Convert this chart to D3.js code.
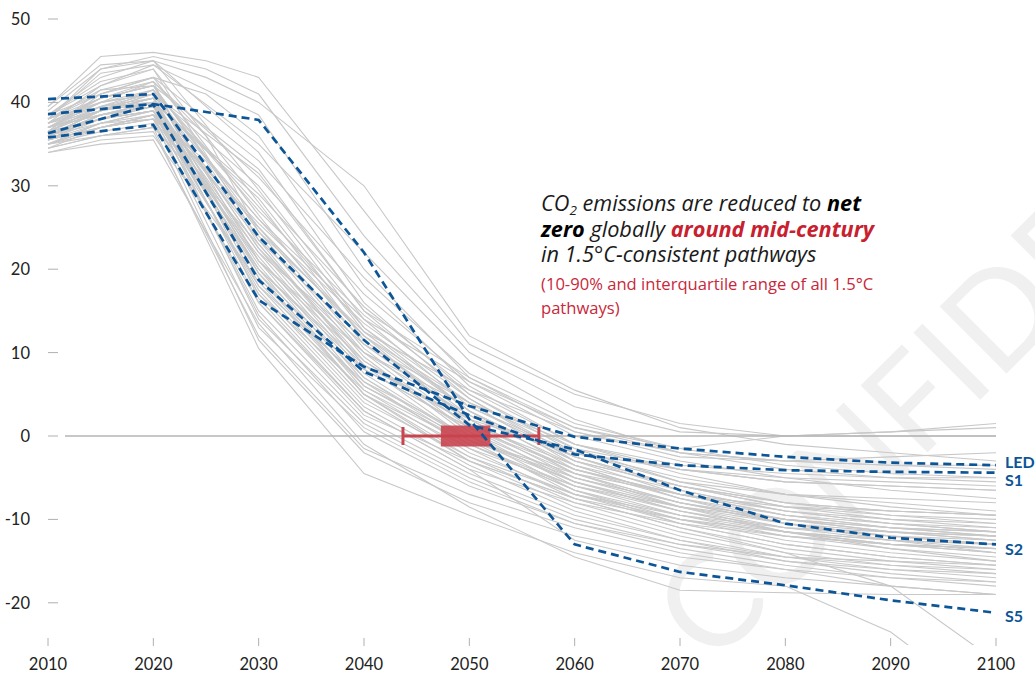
<!DOCTYPE html>
<html>
<head>
<meta charset="utf-8">
<script src="https://cdn.jsdelivr.net/npm/d3@7"></script>
<style>
    html, body { margin: 0; padding: 0; background: #fff; }
    svg { display: block; font-family: Lato, "Open Sans", sans-serif; }
</style>
</head>
<body>
<svg id="chart" width="1035" height="675"></svg>
<script>
/* years of the grey model pathways (null = not reported) */
var gridYears = [2010, 2015, 2020, 2025, 2030, 2040, 2050, 2060, 2070, 2080, 2090, 2100];

var ensemble = [
    [39.5, 45.5, 46.0, 45.0, 43.0, 27.0, 11.0, 5.0, 1.5, 0.0, 0.0, 0.0],
    [38.0, 44.0, 45.5, 44.0, 41.0, 24.0, 10.0, 3.5, 0.5, 0.0, 0.5, 1.5],
    [37.5, 42.0, 44.5, null, 38.5, 20.0, 7.0, 0.5, -2.0, -3.0, -2.5, -2.0],
    [36.5, 41.5, 43.0, 41.0, 36.0, 18.0, 6.0, -1.0, -4.0, -5.5, -6.0, -6.5],
    [38.5, 43.0, 45.0, null, 34.0, 16.0, 5.0, -2.0, -5.0, -7.0, -8.0, -9.0],
    [37.0, 40.5, 42.0, null, 32.0, 15.0, 4.5, -3.0, -6.0, -8.5, -9.5, -10.0],
    [36.0, 39.0, 41.0, null, 30.0, 14.0, 3.5, -2.5, -6.5, -9.0, -10.5, -11.5],
    [35.5, 38.5, 40.0, null, 28.5, 12.5, 3.0, -4.0, -7.0, -9.5, -11.0, -12.0],
    [37.0, 40.0, 41.5, null, 27.5, 13.0, 4.0, -3.5, -7.5, -10.0, -11.5, -12.5],
    [38.0, 41.0, 43.0, null, 26.5, 11.0, 2.0, -4.5, -8.0, -10.5, -12.0, -13.0],
    [36.5, 39.0, 40.5, null, 26.0, 12.0, 1.5, -5.0, -8.5, -11.0, -12.5, -13.5],
    [35.0, 37.5, 39.0, null, 25.0, 10.5, 1.0, -5.5, -9.0, -11.5, -13.0, -14.0],
    [37.5, 40.5, 42.5, 36.0, 24.5, 10.0, 0.5, -6.0, -9.5, -12.0, -13.5, -14.5],
    [36.0, 38.0, 39.5, null, 24.0, 9.5, 0.0, -6.5, -10.0, -12.5, -14.0, -15.0],
    [34.5, 36.0, 37.0, null, 23.0, 9.0, 0.5, -5.0, -8.0, -10.0, -11.0, -11.5],
    [38.5, 42.0, 44.0, null, 23.5, 8.5, -0.5, -7.0, -10.5, -13.0, -14.5, -15.5],
    [36.5, 39.5, 41.0, null, 22.5, 8.0, 1.0, -4.0, -7.0, -9.0, -10.0, -10.5],
    [37.0, 38.5, 40.0, null, 22.0, 7.5, -0.5, -5.5, -8.5, -10.5, -11.5, -12.0],
    [35.5, 37.0, 38.0, null, 21.5, 7.0, -1.0, -6.0, -9.0, -11.0, -12.0, -12.5],
    [38.0, 40.5, 42.0, null, 21.0, 6.5, -1.5, -7.5, -11.0, -13.5, -15.0, -16.0],
    [36.0, 38.5, 40.0, null, 20.5, 6.0, -1.0, -6.5, -9.5, -11.5, -12.5, -13.0],
    [35.0, 37.0, 38.5, null, 20.0, 5.5, -2.0, -7.0, -10.0, -12.0, -13.0, -13.5],
    [37.5, 39.5, 41.5, null, 19.5, 5.0, -2.5, -8.0, -11.5, -14.0, -15.5, -16.5],
    [36.5, 38.0, 39.0, null, 19.0, 6.0, -0.5, -4.5, -7.0, -8.5, -9.0, -9.5],
    [34.0, 35.5, 36.0, null, 18.5, 5.0, -1.5, -6.0, -8.5, -10.0, -11.0, -11.5],
    [37.0, 39.0, 40.5, null, 18.0, 4.5, -3.0, -8.5, -12.0, -14.5, -16.0, -17.0],
    [35.5, 37.5, 39.0, null, 17.5, 4.0, -2.5, -7.0, -9.5, -11.0, -11.5, -12.0],
    [36.0, 38.0, 39.5, null, 17.0, 3.5, -3.5, -9.0, -12.5, -15.0, -16.5, -17.5],
    [38.5, 41.0, 42.5, null, 16.5, 3.0, -4.0, -8.0, -10.5, -12.0, -13.0, -13.5],
    [35.0, 36.5, 37.5, null, 16.0, 2.5, -3.0, -7.5, -10.0, -11.5, -12.5, -13.0],
    [36.5, 38.0, 39.0, null, 15.0, 2.0, -4.5, -9.5, -12.5, -14.5, -15.5, -16.0],
    [37.0, 39.5, 40.0, null, 14.0, 1.5, -5.0, -10.0, -13.0, -15.0, -16.0, -16.5],
    [35.5, 37.0, 38.5, null, 13.0, 1.0, -5.5, -10.5, -13.5, -15.5, -17.0, -18.0],
    [36.0, 37.5, 38.0, null, 11.5, -2.0, -8.0, -12.0, -14.5, -16.0, -17.0, -17.5],
    [35.0, 36.0, 37.0, null, 10.5, -4.5, -9.5, -14.0, -17.0, -18.0, -23.5, -33.0],
    [37.5, 39.0, 40.5, 30.0, 20.0, 8.5, 2.0, -2.0, -4.0, -5.0, -5.5, -6.0],
    [39.0, 44.0, 45.0, 43.0, 40.0, 30.0, 12.0, 5.5, 1.0, -1.0, -2.0, -3.0],
    [38.0, 43.5, 44.5, null, 35.0, 22.0, 9.0, 2.0, -2.0, -4.0, -5.0, -5.5],
    [36.5, 41.0, 43.0, null, 33.0, 19.0, 7.5, 1.5, -1.5, -3.5, -4.5, -5.0],
    [37.0, 40.0, 42.5, null, 31.0, 17.0, 6.5, 0.0, -3.0, -5.0, -6.5, -7.5],
    [35.5, 38.0, 40.0, null, 29.0, 15.5, 5.5, -1.0, -4.5, -7.0, -8.5, -9.5],
    [36.0, 39.0, 41.5, null, 27.0, 14.5, 5.0, -1.5, -5.5, -8.0, -9.5, -10.5],
    [34.5, 37.0, 38.5, null, 25.5, 13.5, 4.5, -2.5, -6.0, -8.0, -9.0, -9.5],
    [37.5, 40.5, 42.0, null, 25.0, 12.0, 3.0, -3.0, -7.0, -9.5, -11.0, -12.0],
    [36.0, 38.5, 39.5, null, 23.5, 11.5, 2.5, -3.5, -7.5, -10.5, -12.5, -14.0],
    [38.0, 40.0, 41.0, null, 22.5, 10.0, 2.5, -2.5, -6.0, -8.0, -9.0, -9.5],
    [35.0, 37.5, 38.5, null, 21.0, 9.0, 1.5, -4.0, -7.5, -9.5, -10.5, -11.0],
    [36.5, 39.0, 40.0, null, 20.0, 8.0, 1.0, -4.5, -8.0, -10.5, -12.0, -13.0],
    [37.0, 38.5, 39.5, null, 19.5, 7.0, -0.5, -5.0, -8.0, -10.0, -11.5, -12.5],
    [35.5, 37.0, 38.0, null, 18.0, 6.5, 0.0, -5.5, -9.0, -11.5, -13.0, -14.0],
    [36.0, 38.5, 39.5, null, 17.0, 5.5, -1.0, -6.5, -10.5, -13.0, -14.5, -15.5],
    [34.5, 36.0, 36.5, null, 12.0, -1.5, -7.0, -11.0, -14.0, -16.0, -18.0, -19.0],
    [36.5, 38.0, 39.0, null, 14.5, 0.5, -6.0, -10.5, -13.0, -14.5, -15.0, -15.5],
    [37.5, 40.0, 41.0, null, 26.0, 14.0, 6.5, 1.0, -1.5, 0.0, 0.5, 1.0],
    [38.0, 41.5, 42.0, null, 24.5, 12.5, 5.5, 0.5, -2.5, -3.0, -3.5, -4.0],
    [36.0, 38.0, 39.0, null, 22.0, 11.0, 4.0, -1.5, -4.0, -5.5, -6.0, -6.5],
    [37.0, 39.0, 40.5, null, 21.0, 10.0, 3.5, -2.0, -5.5, -7.0, -7.5, -8.0],
    [35.0, 37.0, 38.0, 33.0, 23.0, 8.5, 1.5, -3.5, -6.5, -9.0, -10.5, -11.5],
    [39.5, 44.5, 45.0, null, 29.5, 13.0, 3.0, -3.0, -6.0, -8.5, -10.0, -11.0],
    [38.5, 42.5, 44.0, null, 28.0, 11.5, 2.0, -4.5, -8.5, -11.5, -13.5, -15.0],
    [34.0, 35.0, 35.5, null, 13.5, -1.0, -8.5, -14.5, -18.5, -18.8, -19.0, -19.0],
    [36.5, 39.5, 40.5, null, 16.0, 3.0, -4.0, -12.5, -15.5, -17.0, -18.0, -19.0],
    [37.0, 39.0, 40.0, null, 19.0, 5.0, -3.0, -7.5, -11.0, -14.0, -18.0, -27.0],
    [35.5, 38.5, 39.5, null, 25.0, 12.0, 4.0, -1.0, -3.5, -4.5, -5.0, -5.0],
    [36.0, 39.0, 41.0, null, 31.5, 15.0, 7.0, 1.0, -2.0, -3.0, -3.5, -3.5]
];

/* illustrative pathways */
var pathwayYears = [2010, 2020, 2030, 2040, 2050, 2060, 2070, 2080, 2090, 2100];
var ledValues = [35.8, 37.3, 16.3, 8.3, 3.6, -0.1, -1.5, -2.5, -3.2, -3.5];
var s1Values = [36.3, 39.7, 18.7, 7.7, 2.5, -2.2, -3.5, -4.1, -4.3, -4.4];
var s2Values = [40.4, 41.0, 23.9, 11.5, 1.3, -1.6, -6.5, -10.5, -12.2, -13.0];
var s5Values = [38.6, 39.8, 37.9, 22.0, 2.0, -13.0, -16.3, -17.9, -19.7, -21.2];
var pathwayNames = ["LED", "S1", "S2", "S5"];

/* year of net zero: 10th, 25th, 75th, 90th percentile */
var netZeroRange = [2043.7, 2047.3, 2052.0, 2056.6];

var xTickValues = [2010, 2020, 2030, 2040, 2050, 2060, 2070, 2080, 2090, 2100];
var yTickValues = [-20, -10, 0, 10, 20, 30, 40, 50];

var svg = d3.select("#chart");

var x = d3.scaleLinear().domain([2010, 2100]).range([48, 996]);
var y = d3.scaleLinear().domain([-25, 50]).range([644.5, 19]);

/* watermark */
svg.append("text")
    .attr("transform", "translate(712,668) rotate(-45)")
    .attr("font-size", 132)
    .attr("fill", "#f0f0f0")
    .text("CONFIDENTIAL");

svg.append("clipPath").attr("id", "plotClip")
    .append("rect").attr("x", 40).attr("y", 0).attr("width", 965).attr("height", 645);

var line = d3.line()
    .x(function(d) { return x(d[0]); })
    .y(function(d) { return y(d[1]); });

function toPoints(years, values) {
    return years.map(function(yr, i) { return [yr, values[i]]; })
        .filter(function(p) { return p[1] != null; });
}

var plot = svg.append("g").attr("clip-path", "url(#plotClip)");

plot.selectAll("path.model")
    .data(ensemble)
    .enter()
    .append("path")
    .attr("class", "model")
    .attr("d", function(d) { return line(toPoints(gridYears, d)); })
    .attr("fill", "none")
    .attr("stroke", "#c8c8c8")
    .attr("stroke-width", 1.1);

/* zero line */
plot.append("line")
    .attr("x1", 65).attr("x2", x(2100))
    .attr("y1", y(0)).attr("y2", y(0))
    .attr("stroke", "#b5b5b5")
    .attr("stroke-width", 1.6);

/* net zero box */
var red = "#c9444f";
plot.append("line")
    .attr("x1", x(netZeroRange[0])).attr("x2", x(netZeroRange[3]))
    .attr("y1", y(0)).attr("y2", y(0))
    .attr("stroke", red).attr("stroke-width", 3);
[netZeroRange[0], netZeroRange[3]].forEach(function(v) {
    plot.append("line")
        .attr("x1", x(v)).attr("x2", x(v))
        .attr("y1", y(0) - 9).attr("y2", y(0) + 9)
        .attr("stroke", red).attr("stroke-width", 3);
});
plot.append("rect")
    .attr("x", x(netZeroRange[1]))
    .attr("width", x(netZeroRange[2]) - x(netZeroRange[1]))
    .attr("y", y(0) - 10.5)
    .attr("height", 21)
    .attr("fill", red)
    .attr("fill-opacity", 0.9);

/* illustrative pathways, dashed blue */
var blue = "#0c5597";
var pathways = [ledValues, s1Values, s2Values, s5Values];
var labelNudge = [-3, 8, 5, 3];

plot.selectAll("path.illus")
    .data(pathways)
    .enter()
    .append("path")
    .attr("class", "illus")
    .attr("d", function(d) { return line(toPoints(pathwayYears, d)); })
    .attr("fill", "none")
    .attr("stroke", blue)
    .attr("stroke-width", 2.7)
    .attr("stroke-dasharray", "8,5");

svg.selectAll("text.pname")
    .data(pathways)
    .enter()
    .append("text")
    .attr("class", "pname")
    .attr("x", 1005)
    .attr("y", function(d, i) { return y(d[d.length - 1]) + labelNudge[i]; })
    .attr("dy", "0.36em")
    .attr("font-size", 16)
    .attr("font-weight", "bold")
    .attr("fill", blue)
    .text(function(d, i) { return pathwayNames[i]; });

/* axes */
svg.selectAll("line.ytick")
    .data(yTickValues)
    .enter()
    .append("line")
    .attr("class", "ytick")
    .attr("x1", 48).attr("x2", 58)
    .attr("y1", function(d) { return y(d); })
    .attr("y2", function(d) { return y(d); })
    .attr("stroke", "#b0b0b0")
    .attr("stroke-width", 1);

svg.selectAll("text.ylab")
    .data(yTickValues)
    .enter()
    .append("text")
    .attr("class", "ylab")
    .attr("x", 30)
    .attr("y", function(d) { return y(d); })
    .attr("dy", "0.36em")
    .attr("text-anchor", "end")
    .attr("font-size", 16.5)
    .attr("fill", "#222")
    .text(function(d) { return d; });

svg.selectAll("line.xtick")
    .data(xTickValues)
    .enter()
    .append("line")
    .attr("class", "xtick")
    .attr("x1", function(d) { return x(d); })
    .attr("x2", function(d) { return x(d); })
    .attr("y1", 638).attr("y2", 646)
    .attr("stroke", "#b0b0b0")
    .attr("stroke-width", 1);

svg.selectAll("text.xlab")
    .data(xTickValues)
    .enter()
    .append("text")
    .attr("class", "xlab")
    .attr("x", function(d) { return x(d); })
    .attr("y", 670)
    .attr("text-anchor", "middle")
    .attr("font-size", 16.5)
    .attr("fill", "#222")
    .text(function(d) { return d; });

/* annotation */
var note = svg.append("g")
    .attr("font-family", "'Open Sans', Lato, sans-serif")
    .attr("font-style", "italic")
    .attr("font-size", 21.7)
    .attr("fill", "#1a1a1a");

var l1 = note.append("text").attr("x", 541).attr("y", 211);
l1.append("tspan").text("CO");
l1.append("tspan").attr("font-size", 13.5).attr("dy", 4).text("2");
l1.append("tspan").attr("dy", -4).text(" emissions are reduced to ");
l1.append("tspan").attr("font-weight", "bold").attr("fill", "#000").text("net");

var l2 = note.append("text").attr("x", 541).attr("y", 237);
l2.append("tspan").attr("font-weight", "bold").attr("fill", "#000").text("zero");
l2.append("tspan").text(" globally ");
l2.append("tspan").attr("font-weight", "bold").attr("fill", "#c8202f").text("around mid-century");

note.append("text").attr("x", 541).attr("y", 262).text("in 1.5°C-consistent pathways");

var sub = svg.append("g")
    .attr("font-family", "'Open Sans', Lato, sans-serif")
    .attr("font-size", 16.6)
    .attr("fill", "#c8283a");
sub.append("text").attr("x", 541).attr("y", 290).text("(10-90% and interquartile range of all 1.5°C");
sub.append("text").attr("x", 541).attr("y", 314).text("pathways)");
</script>
</body>
</html>
